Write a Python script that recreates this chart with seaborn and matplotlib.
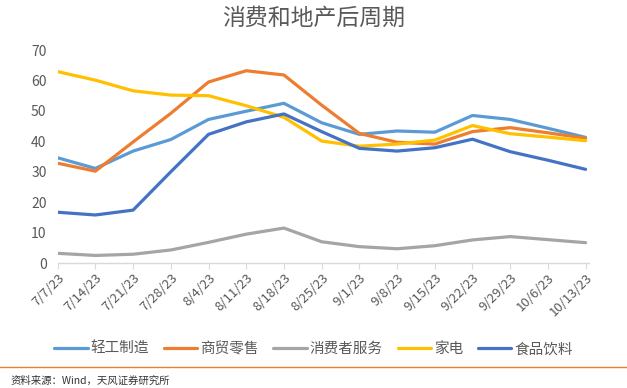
import pandas as pd
import seaborn as sns
import matplotlib.pyplot as plt
from matplotlib.lines import Line2D

# Data
dates = ["7/7/23", "7/14/23", "7/21/23", "7/28/23", "8/4/23", "8/11/23", "8/18/23",
         "8/25/23", "9/1/23", "9/8/23", "9/15/23", "9/22/23", "9/29/23", "10/6/23", "10/13/23"]
light_industry = [34.6, 31.1, 36.8, 40.6, 47.2, 49.9, 52.5, 46.1, 42.3, 43.4, 43.0, 48.5, 47.2, 44.3, 41.3]
retail = [32.8, 30.2, 39.8, 49.2, 59.5, 63.2, 61.8, 51.9, 42.6, 39.7, 39.1, 43.2, 44.5, 42.8, 41.0]
consumer_services = [3.2, 2.5, 2.9, 4.3, 6.8, 9.5, 11.5, 7.0, 5.4, 4.7, 5.7, 7.6, 8.7, 7.7, 6.7]
appliances = [62.9, 60.1, 56.6, 55.2, 55.0, 51.7, 47.9, 40.1, 38.4, 39.1, 40.4, 45.2, 42.5, 41.4, 40.2]
food_bev = [16.7, 15.8, 17.4, 30.0, 42.3, 46.4, 49.0, 43.2, 37.7, 36.8, 37.9, 40.7, 36.6, 33.8, 30.8]

series_names = ["轻工制造", "商贸零售", "消费者服务", "家电", "食品饮料"]
series_values = [light_industry, retail, consumer_services, appliances, food_bev]
colors = ["#5B9BD5", "#ED7D31", "#A5A5A5", "#FFC000", "#4472C4"]

# long-form table for seaborn
rows = []
for name, vals in zip(series_names, series_values):
    for i, v in enumerate(vals):
        rows.append({"idx": i, "value": v, "series": name})
df = pd.DataFrame(rows)

sns.set_theme(style="white")
plt.rcParams["font.family"] = ["Noto Sans CJK SC", "DejaVu Sans"]

txt = "#595959"
fig = plt.figure(figsize=(6.27, 3.88), dpi=100)
ax = fig.add_axes([0.092, 0.322, 0.848, 0.549])

sns.lineplot(data=df, x="idx", y="value", hue="series", hue_order=series_names,
             palette=colors, linewidth=2.3, ax=ax, legend=False, sort=False)

ax.set_xlim(0, len(dates) - 1 + 0.1)
ax.set_ylim(0, 70)
ax.set_yticks(range(0, 71, 10))
ax.set_xticks(range(len(dates)))
ax.set_xticklabels(dates, rotation=45, ha="right", rotation_mode="anchor")
ax.tick_params(axis="x", colors="#d9d9d9", labelcolor=txt, labelsize=9.5,
               length=4, width=0.8, direction="out", bottom=True, pad=2)
ax.tick_params(axis="y", labelcolor=txt, labelsize=10, length=0, pad=8)
ax.set_xlabel("")
ax.set_ylabel("")
for s in ["top", "right", "left"]:
    ax.spines[s].set_visible(False)
ax.spines["bottom"].set_color("#d9d9d9")
ax.spines["bottom"].set_linewidth(1.0)

fig.text(0.5, 0.953, "消费和地产后周期", ha="center", va="center",
         fontsize=16.5, color=txt)

handles = [Line2D([0], [0], color=c, lw=2.3) for c in colors]
fig.legend(handles, series_names, loc="center", bbox_to_anchor=(0.5, 0.1),
           ncol=5, frameon=False, fontsize=10.5, labelcolor=txt,
           handlelength=2.3, handletextpad=0.2, columnspacing=1.0)

fig.add_artist(Line2D([0, 1], [0.054, 0.054], color="#ED7D31", lw=1.0,
                      transform=fig.transFigure))
fig.text(0.016, 0.02, "资料来源：Wind，天风证券研究所", ha="left", va="center",
         fontsize=7.5, color="#333333")

fig.savefig("out.png", dpi=100)
